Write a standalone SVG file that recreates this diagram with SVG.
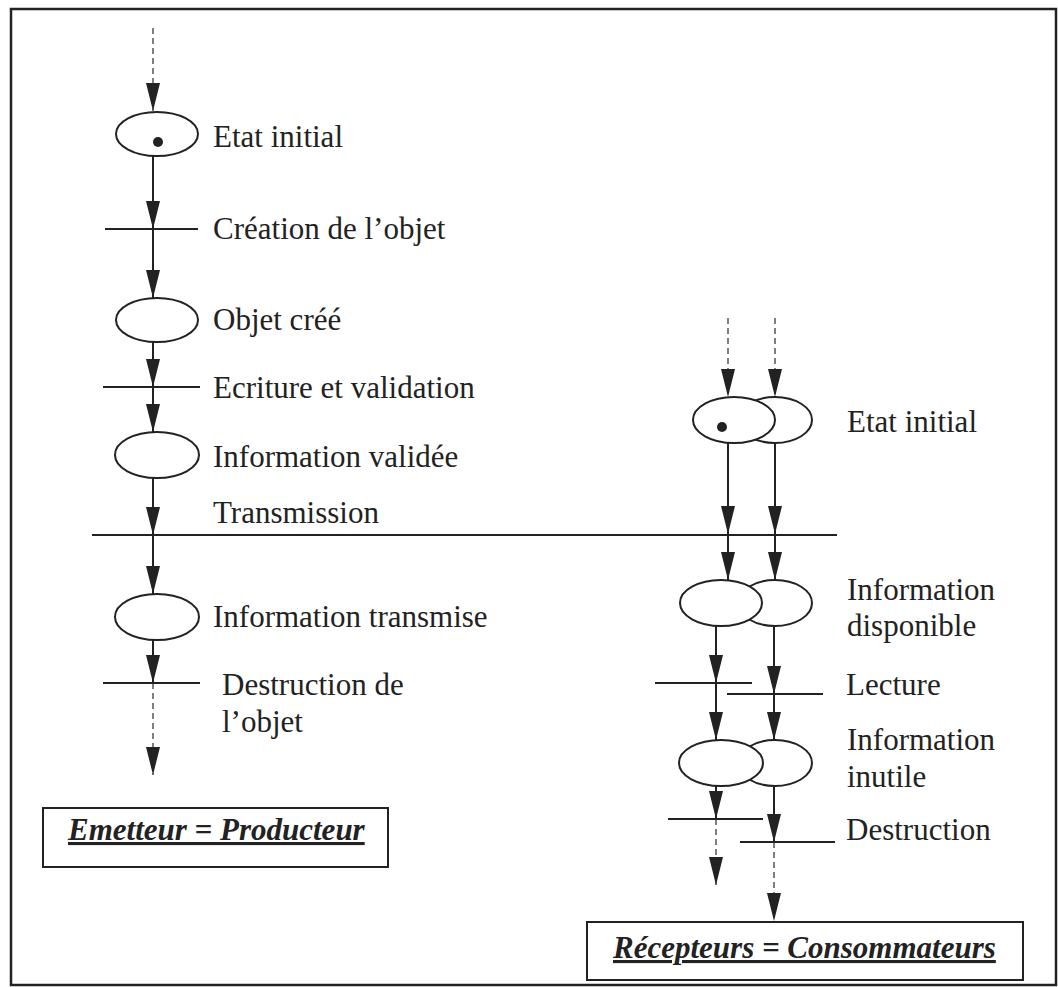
<svg xmlns="http://www.w3.org/2000/svg" width="1058" height="987" viewBox="0 0 1058 987">
<defs>
<marker id="ah" markerUnits="userSpaceOnUse" viewBox="0 0 28 14" refX="28" refY="7" markerWidth="28" markerHeight="14" orient="auto">
<path d="M0,0 L28,7 L0,14 Z" fill="#222"/>
</marker>
<style>
.t{font-family:"Liberation Serif","Times New Roman",serif;font-size:31px;fill:#222}
.b{font-family:"Liberation Serif","Times New Roman",serif;font-size:31px;font-weight:bold;font-style:italic;fill:#222;text-decoration:underline}
.st{fill:#fff;stroke:#222;stroke-width:2}
.bar{stroke:#222;stroke-width:2;fill:none}
.c{stroke:#222;stroke-width:2;fill:none;marker-end:url(#ah)}
.d{stroke:#555;stroke-width:1.5;stroke-dasharray:6 4;fill:none;marker-end:url(#ah)}
.box{fill:#fff;stroke:#222;stroke-width:2}
</style>
</defs>
<rect x="0" y="0" width="1058" height="987" fill="#fff"/>
<rect x="11" y="9" width="1045" height="976" fill="none" stroke="#222" stroke-width="2.5"/>

<g id="connectors">
<path class="d" d="M153,28 V111"/>
<path class="c" d="M153,156 V229"/>
<path class="c" d="M153,229 V298"/>
<path class="c" d="M153,342 V387"/>
<path class="c" d="M153,387 V432"/>
<path class="c" d="M153,478 V535"/>
<path class="c" d="M153,535 V594"/>
<path class="c" d="M153,640 V683"/>
<path class="d" d="M153,683 V775"/>

<path class="d" d="M728,318 V397"/>
<path class="d" d="M775,318 V397"/>
<path class="c" d="M728,443 V534"/>
<path class="c" d="M775,443 V534"/>
<path class="c" d="M728,534 V580"/>
<path class="c" d="M775,534 V580"/>

<path class="c" d="M716,626 V683"/>
<path class="c" d="M774,626 V694"/>
<path class="c" d="M716,683 V740"/>
<path class="c" d="M774,694 V740"/>
<path class="c" d="M716,786 V819"/>
<path class="c" d="M774,786 V842"/>
<path class="d" d="M716,819 V885"/>
<path class="d" d="M774,842 V921"/>
</g>

<g id="etat-initial-emetteur">
<ellipse class="st" cx="157" cy="134" rx="41" ry="22"/>
<circle cx="158" cy="142" r="5" fill="#222"/>
<text class="t" x="213" y="147">Etat initial</text>
</g>
<g id="creation">
<line class="bar" x1="105" y1="229" x2="198" y2="229"/>
<text class="t" x="213" y="239">Création de l’objet</text>
</g>
<g id="objet-cree">
<ellipse class="st" cx="157" cy="320" rx="41" ry="22"/>
<text class="t" x="213" y="330">Objet créé</text>
</g>
<g id="ecriture">
<line class="bar" x1="103" y1="387" x2="200" y2="387"/>
<text class="t" x="213" y="398">Ecriture et validation</text>
</g>
<g id="info-validee">
<ellipse class="st" cx="157" cy="455" rx="42" ry="23"/>
<text class="t" x="213" y="467">Information validée</text>
</g>
<g id="transmission">
<line class="bar" x1="92" y1="535" x2="837" y2="535"/>
<text class="t" x="213" y="523">Transmission</text>
</g>
<g id="info-transmise">
<ellipse class="st" cx="157" cy="617" rx="42" ry="23"/>
<text class="t" x="213" y="627">Information transmise</text>
</g>
<g id="destruction-objet">
<line class="bar" x1="103" y1="683" x2="200" y2="683"/>
<text class="t" x="222" y="695">Destruction de</text>
<text class="t" x="222" y="732">l’objet</text>
</g>
<g id="emetteur">
<rect class="box" x="43" y="808" width="345" height="59"/>
<text class="b" x="68" y="840">Emetteur = Producteur</text>
</g>

<g id="etat-initial-recepteurs">
<ellipse class="st" cx="775" cy="420" rx="37" ry="23"/>
<ellipse class="st" cx="734" cy="420" rx="41" ry="23"/>
<circle cx="722" cy="427" r="5" fill="#222"/>
<text class="t" x="847" y="432">Etat initial</text>
</g>
<g id="info-disponible">
<ellipse class="st" cx="775" cy="603" rx="37" ry="23"/>
<ellipse class="st" cx="721" cy="603" rx="41" ry="23"/>
<text class="t" x="847" y="600">Information</text>
<text class="t" x="847" y="636">disponible</text>
</g>
<g id="lecture">
<line class="bar" x1="655" y1="683" x2="752" y2="683"/>
<line class="bar" x1="727" y1="694" x2="823" y2="694"/>
<text class="t" x="846" y="695">Lecture</text>
</g>
<g id="info-inutile">
<ellipse class="st" cx="775" cy="763" rx="37" ry="23"/>
<ellipse class="st" cx="721" cy="763" rx="42" ry="23"/>
<text class="t" x="847" y="750">Information</text>
<text class="t" x="847" y="787">inutile</text>
</g>
<g id="destruction">
<line class="bar" x1="668" y1="819" x2="763" y2="819"/>
<line class="bar" x1="740" y1="842" x2="835" y2="842"/>
<text class="t" x="846" y="840">Destruction</text>
</g>
<g id="recepteurs">
<rect class="box" x="587" y="922" width="436" height="58"/>
<text class="b" x="613" y="958">Récepteurs = Consommateurs</text>
</g>
</svg>
